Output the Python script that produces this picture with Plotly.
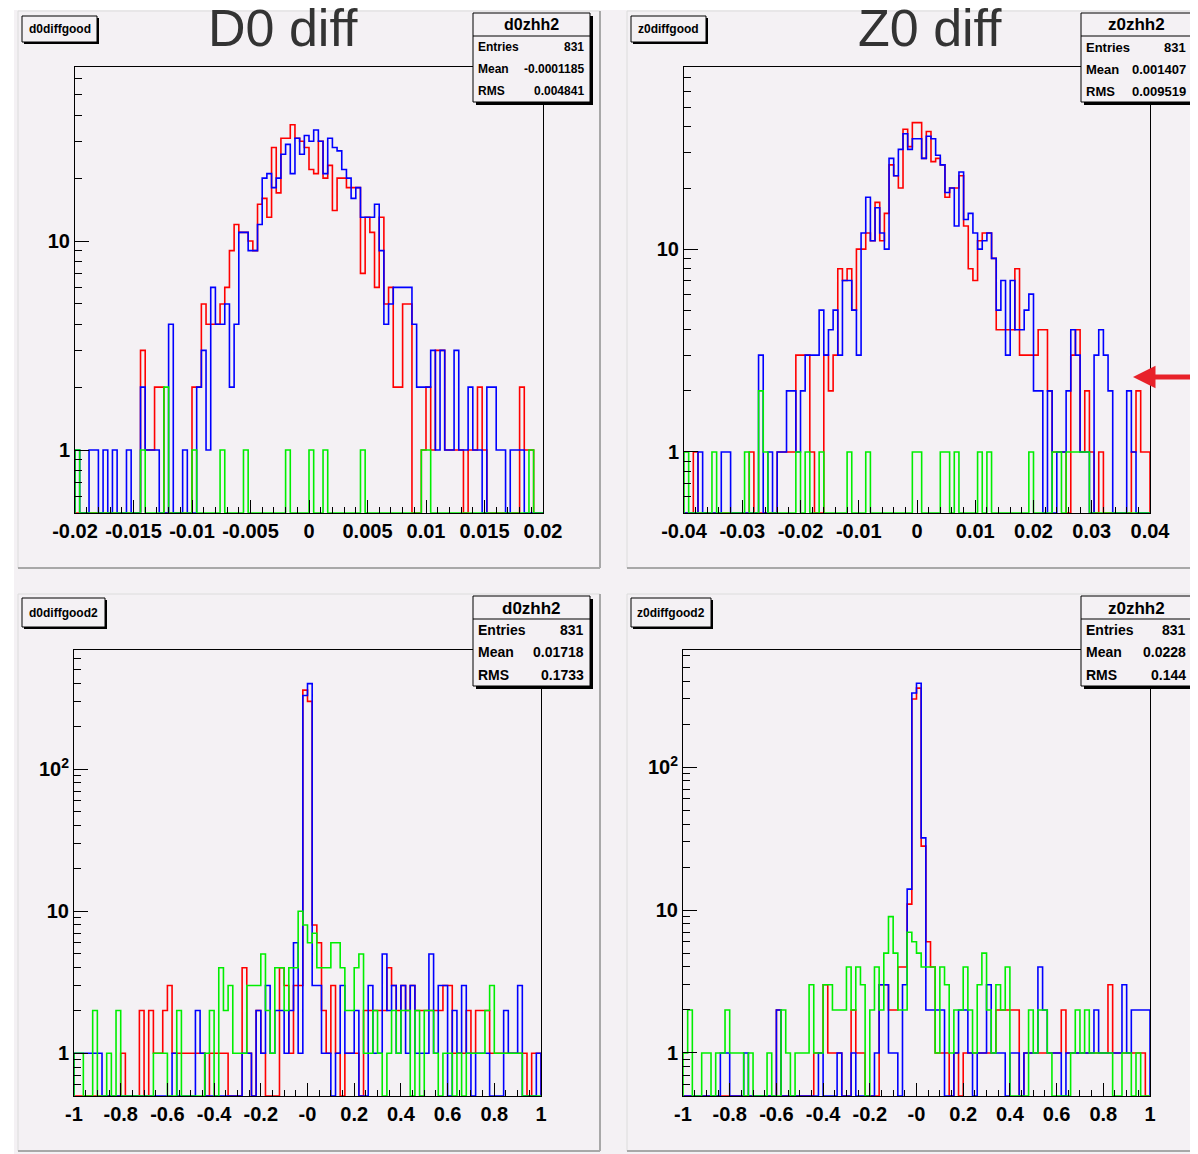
import numpy as np
import plotly.graph_objects as go

W, H = 1198, 1154
BG = "#f4f1f4"
OFF = 8  # page body margin: the figure starts 8 px in from the window corner

# ---------------- data (bin contents, 100 bins each) ----------------
d0_range = [-0.02, 0.02]
z0_range = [-0.04, 0.04]
wide_range = [-1.0, 1.0]

d0_red = [0]*14 + [3, 1, 1, 2, 2, 0,
                   0, 0, 0, 0, 0, 2, 2, 5, 4, 4,
                   4, 5, 6, 9, 12, 11, 11, 10, 9, 15,
                   16, 13, 28, 17, 31, 31, 36, 31, 30, 28,
                   22, 21, 30, 20, 23, 14, 20, 20, 18, 18,
                   18, 7, 13, 11, 6, 13, 5, 6, 2, 2,
                   5, 5, 0, 0, 1, 2, 1, 3, 3, 1,
                   1, 1, 1, 0, 1, 1, 2, 1, 0, 0,
                   0, 0, 0, 0, 0, 2, 1, 1, 0, 0]
d0_blue = [1, 0, 0, 1, 1, 0, 1, 0, 1, 0,
           0, 1, 0, 0, 2, 1, 1, 1, 0, 0,
           4, 0, 0, 1, 0, 0, 2, 3, 1, 6,
           4, 4, 5, 2, 4, 11, 11, 9, 9, 12,
           20, 21, 18, 20, 26, 29, 21, 31, 26, 32,
           30, 34, 30, 21, 31, 28, 27, 22, 20, 16,
           18, 13, 13, 13, 15, 9, 4, 5, 6, 6,
           6, 6, 4, 2, 2, 2, 3, 1, 3, 1,
           1, 3, 1, 1, 2, 1, 1, 0, 2, 2,
           1, 1, 0, 1, 1, 1, 0, 0, 0, 0]
d0_green = [1, 0, 0, 0, 0, 0, 0, 0, 0, 0,
            0, 0, 0, 0, 1, 0, 0, 0, 0, 2,
            0, 0, 0, 0, 0, 1, 0, 0, 0, 0,
            0, 1, 0, 0, 0, 0, 1, 0, 0, 0,
            0, 0, 0, 0, 0, 1, 0, 0, 0, 0,
            1, 0, 0, 1, 0, 0, 0, 0, 0, 0,
            0, 1, 0, 0, 0, 0, 0, 0, 0, 0,
            0, 0, 0, 0, 1, 1, 0, 0, 0, 0,
            0, 0, 0, 0, 0, 0, 0, 0, 0, 0,
            0, 0, 0, 0, 0, 0, 0, 1, 0, 0]

z0_red = [0, 0, 1, 0, 0, 0, 0, 0, 0, 0,
          0, 0, 0, 0, 1, 0, 0, 0, 0, 0,
          1, 1, 1, 1, 3, 3, 3, 1, 0, 0,
          3, 2, 3, 8, 7, 8, 5, 10, 10, 12,
          11, 17, 11, 15, 26, 23, 20, 39, 32, 42,
          42, 28, 38, 27, 28, 26, 18, 20, 20, 23,
          13, 8, 7, 11, 12, 12, 9, 4, 4, 4,
          4, 8, 3, 3, 3, 3, 4, 4, 2, 1,
          1, 1, 0, 3, 4, 1, 2, 1, 0, 1,
          0, 0, 0, 0, 0, 0, 1, 2, 1, 1]
z0_blue = [0, 0, 0, 1, 0, 0, 0, 0, 1, 1,
           0, 0, 0, 0, 0, 0, 3, 0, 1, 0,
           1, 1, 2, 2, 1, 2, 3, 3, 3, 5,
           3, 4, 5, 3, 7, 7, 5, 3, 12, 18,
           11, 16, 12, 10, 28, 23, 31, 37, 31, 35,
           35, 28, 36, 35, 29, 26, 19, 20, 13, 24,
           14, 15, 12, 10, 11, 12, 9, 5, 7, 3,
           7, 4, 4, 5, 6, 2, 2, 0, 2, 0,
           1, 1, 2, 4, 3, 1, 1, 0, 3, 4,
           3, 2, 0, 0, 0, 2, 1, 0, 0, 0]
z0_green = [1, 0, 0, 0, 0, 0, 1, 0, 0, 0,
            0, 0, 0, 1, 0, 0, 2, 1, 0, 0,
            0, 0, 0, 0, 1, 0, 1, 0, 0, 1,
            0, 0, 0, 0, 0, 1, 0, 0, 0, 1,
            0, 0, 0, 0, 0, 0, 0, 0, 0, 1,
            1, 0, 0, 0, 0, 1, 1, 0, 1, 0,
            0, 0, 0, 1, 0, 1, 0, 0, 0, 0,
            0, 0, 0, 0, 1, 0, 0, 0, 0, 1,
            1, 0, 1, 1, 1, 1, 1, 0, 0, 0,
            0, 0, 0, 0, 0, 0, 0, 0, 0, 0]

d02_red = [0, 0, 0, 0, 0, 0, 0, 0, 0, 0,
           1, 0, 0, 0, 2, 0, 2, 1, 1, 2,
           3, 1, 1, 1, 1, 1, 1, 1, 0, 1,
           1, 1, 1, 0, 0, 0, 4, 1, 0, 2,
           1, 0, 0, 0, 4, 3, 1, 3, 3, 360,
           300, 8, 6, 2, 1, 3, 1, 0, 1, 1,
           1, 0, 2, 2, 2, 2, 2, 4, 3, 2,
           3, 2, 3, 2, 2, 2, 2, 2, 2, 3,
           3, 1, 1, 1, 2, 1, 2, 2, 2, 1,
           1, 1, 1, 1, 1, 1, 1, 0, 1, 1]
d02_blue = [1, 1, 1, 1, 1, 1, 0, 0, 0, 0,
            0, 0, 0, 0, 0, 0, 0, 0, 0, 0,
            0, 1, 0, 0, 0, 0, 2, 1, 0, 0,
            0, 0, 0, 0, 0, 0, 1, 1, 0, 2,
            1, 3, 1, 2, 2, 1, 2, 6, 1, 330,
            400, 3, 3, 1, 1, 0, 1, 3, 1, 1,
            2, 0, 0, 3, 1, 1, 5, 2, 3, 1,
            3, 1, 3, 1, 1, 1, 5, 1, 3, 3,
            0, 2, 1, 3, 1, 0, 1, 1, 1, 0,
            0, 0, 2, 1, 1, 3, 0, 0, 0, 1]
d02_green = [1, 1, 0, 0, 2, 0, 0, 1, 0, 2,
             0, 0, 0, 0, 0, 0, 0, 1, 1, 1,
             0, 0, 2, 0, 0, 0, 0, 0, 1, 2,
             0, 4, 2, 3, 1, 1, 1, 3, 3, 3,
             5, 2, 1, 4, 4, 2, 4, 4, 10, 8,
             6, 7, 4, 4, 4, 6, 6, 4, 2, 2,
             4, 5, 1, 1, 2, 1, 0, 1, 2, 1,
             2, 2, 0, 2, 0, 2, 2, 1, 0, 1,
             1, 0, 1, 0, 1, 1, 1, 1, 2, 3,
             1, 1, 1, 1, 1, 1, 0, 0, 0, 0]

z02_red = [0, 0, 0, 0, 0, 0, 0, 0, 0, 0,
           0, 0, 0, 0, 0, 0, 0, 0, 0, 0,
           2, 0, 0, 0, 0, 0, 0, 0, 1, 1,
           3, 1, 1, 1, 0, 0, 2, 1, 1, 0,
           0, 0, 3, 3, 2, 2, 4, 4, 11, 300,
           357, 28, 6, 4, 1, 1, 1, 0, 1, 0,
           1, 1, 1, 1, 1, 1, 1, 2, 2, 2,
           2, 2, 0, 1, 1, 1, 1, 1, 1, 1,
           1, 2, 1, 1, 1, 1, 1, 1, 1, 1,
           1, 3, 1, 1, 1, 1, 1, 1, 1, 0]
z02_blue = [0, 0, 0, 0, 0, 0, 0, 0, 1, 1,
            0, 0, 0, 1, 0, 0, 0, 0, 0, 0,
            2, 0, 0, 0, 0, 0, 0, 0, 0, 1,
            0, 0, 0, 1, 0, 0, 1, 0, 0, 0,
            0, 1, 3, 3, 1, 1, 0, 3, 14, 330,
            386, 32, 2, 2, 2, 2, 0, 0, 1, 2,
            2, 1, 0, 1, 1, 3, 1, 1, 1, 0,
            1, 1, 0, 1, 1, 1, 4, 2, 1, 1,
            1, 0, 1, 1, 1, 1, 1, 1, 2, 1,
            1, 1, 1, 1, 3, 1, 2, 2, 2, 2]
z02_green = [1, 2, 0, 0, 1, 1, 0, 1, 1, 2,
             1, 1, 1, 0, 1, 0, 0, 0, 1, 0,
             0, 2, 1, 0, 1, 1, 1, 3, 1, 1,
             3, 3, 2, 2, 2, 4, 2, 4, 3, 0,
             2, 4, 2, 5, 9, 5, 2, 2, 7, 6,
             5, 4, 4, 4, 1, 4, 3, 1, 2, 2,
             4, 2, 1, 3, 5, 2, 1, 3, 2, 4,
             0, 0, 0, 0, 2, 1, 2, 2, 1, 0,
             0, 0, 0, 1, 2, 1, 2, 1, 1, 1,
             1, 1, 0, 0, 1, 1, 0, 1, 0, 0]

x_ticks_d0 = [-0.02, -0.015, -0.01, -0.005, 0, 0.005, 0.01, 0.015, 0.02]
x_text_d0 = ["-0.02", "-0.015", "-0.01", "-0.005", "0", "0.005", "0.01", "0.015", "0.02"]
x_ticks_z0 = [-0.04, -0.03, -0.02, -0.01, 0, 0.01, 0.02, 0.03, 0.04]
x_text_z0 = ["-0.04", "-0.03", "-0.02", "-0.01", "0", "0.01", "0.02", "0.03", "0.04"]
x_ticks_w = [-1, -0.8, -0.6, -0.4, -0.2, 0, 0.2, 0.4, 0.6, 0.8, 1]
x_text_w = ["-1", "-0.8", "-0.6", "-0.4", "-0.2", "-0", "0.2", "0.4", "0.6", "0.8", "1"]

stats = {
    "p1": ("d0zhh2", "831", "-0.0001185", "0.004841"),
    "p2": ("z0zhh2", "831", "0.001407", "0.009519"),
    "p3": ("d0zhh2", "831", "0.01718", "0.1733"),
    "p4": ("z0zhh2", "831", "0.0228", "0.144"),
}
pad_titles = {"p1": "d0diffgood", "p2": "z0diffgood", "p3": "d0diffgood2", "p4": "z0diffgood2"}

# ---------------- helpers ----------------
def fx(x):
    return (x - OFF) / W

def fy(y):
    return 1 - (y - OFF) / H

YMIN = 0.5
COLORS = {"red": "#ff0000", "blue": "#0000ff", "green": "#00ee00"}


def step_xy(values, rng, floor=YMIN):
    edges = np.linspace(rng[0], rng[1], len(values) + 1)
    v = np.maximum(np.asarray(values, dtype=float), floor)
    xs = np.concatenate([[edges[0]], edges])
    ys = np.concatenate([[floor], v, [floor]])
    return xs, ys


fig = go.Figure()

panels = [
    ("p1", "", (d0_red, d0_blue, d0_green), d0_range, (75, 67, 543, 513), 68,
     x_ticks_d0, x_text_d0, 0.001),
    ("p2", "2", (z0_red, z0_blue, z0_green), z0_range, (684, 67, 1150, 513), 79,
     x_ticks_z0, x_text_z0, 0.002),
    ("p3", "3", (d02_red, d02_blue, d02_green), wide_range, (74, 650, 541, 1096), 690,
     x_ticks_w, x_text_w, 0.05),
    ("p4", "4", (z02_red, z02_blue, z02_green), wide_range, (683, 650, 1150, 1096), 660,
     x_ticks_w, x_text_w, 0.05),
]

TICKFONT = dict(family="Liberation Sans Narrow, Liberation Sans, Arial", size=20, color="black")

for key, sfx, series, rng, box, ytop, xt, xtt, mstep in panels:
    xa = "x" + sfx
    ya = "y" + sfx
    for vals, col in zip(series, ("red", "blue", "green")):
        xs, ys = step_xy(vals, rng)
        fig.add_trace(go.Scatter(x=xs, y=ys, mode="lines", line_shape="hv",
                                 line=dict(color=COLORS[col], width=1.6),
                                 xaxis=xa, yaxis=ya, showlegend=False, hoverinfo="skip"))
    x0, y0, x1, y1 = box
    minor_x = [v for v in np.arange(rng[0], rng[1] + mstep / 2, mstep)
               if min(abs(v - t) for t in xt) > mstep / 3]
    xaxis = dict(domain=[fx(x0), fx(x1)], range=rng, anchor=ya, showgrid=False, zeroline=False,
                 showline=True, linecolor="black", linewidth=1, mirror=True, automargin=False,
                 ticks="inside", ticklen=13, tickcolor="black", tickwidth=1,
                 tickmode="array", tickvals=xt, ticktext=["<b>%s</b>" % t for t in xtt],
                 tickfont=TICKFONT,
                 minor=dict(ticks="inside", ticklen=6, tickcolor="black", tickwidth=1,
                            tickmode="array", tickvals=minor_x, showgrid=False))
    decades = [1, 10] if ytop < 100 else [1, 10, 100]
    ytext = ["<b>1</b>", "<b>10</b>", "<b>10<sup>2</sup></b>"][:len(decades)]
    minor_y = [m * d for d in (0.1, 1, 10, 100) for m in range(2, 10)
               if YMIN < m * d < ytop and m * d not in decades]
    yaxis = dict(domain=[fy(y1), fy(y0)], type="log", range=[np.log10(YMIN), np.log10(ytop)],
                 anchor=xa, showgrid=False, zeroline=False, automargin=False,
                 showline=True, linecolor="black", linewidth=1, mirror=True,
                 ticks="inside", ticklen=14, tickcolor="black", tickwidth=1,
                 tickmode="array", tickvals=decades, ticktext=ytext, tickfont=TICKFONT,
                 minor=dict(ticks="inside", ticklen=7, tickcolor="black", tickwidth=1,
                            tickmode="array", tickvals=minor_y, showgrid=False))
    fig.update_layout(**{"xaxis" + sfx: xaxis, "yaxis" + sfx: yaxis})

shapes = []
annotations = []

# white border strips at top / left of canvas
shapes.append(dict(type="rect", xref="paper", yref="paper", x0=fx(0), x1=1.01, y0=fy(10), y1=1.01,
                   fillcolor="white", line=dict(width=0), layer="below"))
shapes.append(dict(type="rect", xref="paper", yref="paper", x0=-0.01, x1=fx(14), y0=-0.01, y1=1.01,
                   fillcolor="white", line=dict(width=0), layer="below"))

# pad bevels
pads = {"p1": (18, 11, 600, 568), "p2": (627, 11, 1210, 568),
        "p3": (18, 594, 600, 1151), "p4": (627, 594, 1210, 1151)}
for key, (x0, y0, x1, y1) in pads.items():
    shapes.append(dict(type="rect", xref="paper", yref="paper", x0=fx(x0), x1=fx(x1),
                       y0=fy(y1), y1=fy(y0), fillcolor=BG, line=dict(width=0), layer="below"))
    shapes.append(dict(type="line", xref="paper", yref="paper", x0=fx(x0), x1=fx(x0),
                       y0=fy(y1), y1=fy(y0), line=dict(color="#dcdcdc", width=1), layer="below"))
    shapes.append(dict(type="line", xref="paper", yref="paper", x0=fx(x0), x1=fx(x1),
                       y0=fy(y0), y1=fy(y0), line=dict(color="#dcdcdc", width=1), layer="below"))
    shapes.append(dict(type="line", xref="paper", yref="paper", x0=fx(x1), x1=fx(x1),
                       y0=fy(y1), y1=fy(y0), line=dict(color="#a8a8a8", width=2), layer="below"))
    shapes.append(dict(type="line", xref="paper", yref="paper", x0=fx(x0), x1=fx(x1),
                       y0=fy(y1), y1=fy(y1), line=dict(color="#a8a8a8", width=2), layer="below"))

SMALL = "Liberation Sans Narrow, Liberation Sans, Arial"


def box(x0, y0, x1, y1, shadow=3):
    shapes.append(dict(type="rect", xref="paper", yref="paper", x0=fx(x0 + shadow), x1=fx(x1 + shadow),
                       y0=fy(y1 + shadow), y1=fy(y0 + shadow), fillcolor="black",
                       line=dict(width=0), layer="above"))
    shapes.append(dict(type="rect", xref="paper", yref="paper", x0=fx(x0), x1=fx(x1),
                       y0=fy(y1), y1=fy(y0), fillcolor=BG,
                       line=dict(color="black", width=1), layer="above"))


def text(x, y, s, size, xanchor="center", yanchor="middle", color="black", family=SMALL, bold=True):
    annotations.append(dict(x=fx(x), y=fy(y), xref="paper", yref="paper", showarrow=False,
                            text=("<b>%s</b>" % s) if bold else s, xanchor=xanchor,
                            yanchor=yanchor, borderpad=0,
                            font=dict(family=family, size=size, color=color)))


# pad title boxes
title_boxes = {"p1": (22, 16, 97, 42), "p2": (631, 16, 706, 42),
               "p3": (22, 598, 105, 627), "p4": (631, 598, 711, 627)}
for key, (x0, y0, x1, y1) in title_boxes.items():
    box(x0, y0, x1, y1, shadow=2)
    text((x0 + x1) / 2, (y0 + y1) / 2, pad_titles[key], 12)

# stats boxes: x0, y0, x1, y1, row font, header font, right text edge
stat_boxes = {"p1": (473, 13, 590, 102, 12, 16, 585), "p2": (1081, 13, 1210, 102, 13, 17, 1187),
              "p3": (473, 596, 590, 686, 14, 17, 585), "p4": (1081, 596, 1210, 686, 14, 17, 1187)}
for key, (x0, y0, x1, y1, fs, hs, xr) in stat_boxes.items():
    name, ent, mean, rms = stats[key]
    box(x0, y0, x1, y1, shadow=3)
    hy = y0 + 23
    shapes.append(dict(type="line", xref="paper", yref="paper", x0=fx(x0), x1=fx(x1),
                       y0=fy(hy), y1=fy(hy), line=dict(color="black", width=1), layer="above"))
    xc = (x0 + xr + 5) / 2
    text(xc, y0 + 12, name, hs)
    rows = [("Entries", ent), ("Mean", mean), ("RMS", rms)]
    row_h = (y1 - hy) / 3
    for i, (lab, val) in enumerate(rows):
        yy = hy + row_h * (i + 0.5)
        text(x0 + 4, yy, lab, fs, xanchor="left")
        text(xr, yy, val, fs, xanchor="right")

# big slide titles
text(283, 28, "D0 diff", 52, family="Liberation Sans, Arial", color="#333333", bold=False)
text(930, 28, "Z0 diff", 52, family="Liberation Sans, Arial", color="#333333", bold=False)

# red arrow
annotations.append(dict(x=fx(1133), y=fy(377), xref="paper", yref="paper", text=" ",
                        showarrow=True, ax=64, ay=0, arrowhead=2, arrowsize=0.9,
                        arrowwidth=5, arrowcolor="#e8222a"))

fig.update_layout(width=W, height=H,
                  margin=dict(l=0, r=0, t=0, b=0, pad=0, autoexpand=False),
                  paper_bgcolor=BG, plot_bgcolor=BG, showlegend=False,
                  shapes=shapes, annotations=annotations)

fig.write_html("out.html")
